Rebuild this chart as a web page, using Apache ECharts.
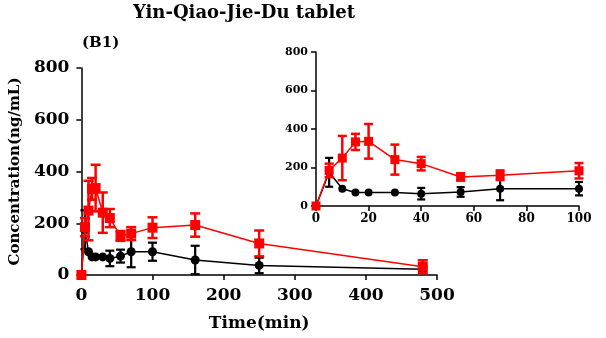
<!DOCTYPE html>
<html>
<head>
<meta charset="utf-8">
<script src="https://cdn.jsdelivr.net/npm/echarts@6/dist/echarts.min.js"></script>
<style>html,body{margin:0;padding:0;background:#fff}#c{width:606px;height:338px}</style>
</head>
<body>
<div id="c"></div>
<script>
var times = [0, 5, 10, 15, 20, 30, 40, 55, 70, 100, 160, 250, 480];
var redMean = [0, 185, 249, 333, 336, 241, 220, 151, 160, 183, 193, 122, 32];
var redSD = [0, 35, 115, 42, 90, 78, 35, 19, 25, 40, 45, 50, 25];
var blackMean = [0, 175, 90, 70, 70, 70, 64, 73, 90, 90, 58, 37, 22];
var blackSD = [0, 75, 0, 0, 0, 0, 30, 25, 60, 35, 55, 30, 8];
var mainXTicks = [0, 100, 200, 300, 400, 500];
var mainYTicks = [0, 200, 400, 600, 800];
var insetXTicks = [0, 20, 40, 60, 80, 100];
var insetYTicks = [0, 200, 400, 600, 800];
var titleText = 'Yin-Qiao-Jie-Du tablet';
var panelText = '(B1)';

var FONT = '"DejaVu Serif", "Liberation Serif", serif';
var RED = '#ff0000', BLACK = '#000000';

function pts(mean, sd, maxT) {
  var out = [];
  for (var i = 0; i < times.length; i++) {
    if (times[i] <= maxT) out.push([times[i], mean[i], sd[i]]);
  }
  return out;
}

function errRender(color, hw, lw) {
  return function (params, api) {
    var x = api.value(0), m = api.value(1), s = api.value(2);
    if (!s) return null;
    var top = api.coord([x, m + s]);
    var bot = api.coord([x, m - s]);
    var st = { stroke: color, lineWidth: lw };
    return {
      type: 'group',
      children: [
        { type: 'line', shape: { x1: top[0], y1: top[1], x2: bot[0], y2: bot[1] }, style: st },
        { type: 'line', shape: { x1: top[0] - hw, y1: top[1], x2: top[0] + hw, y2: top[1] }, style: st },
        { type: 'line', shape: { x1: bot[0] - hw, y1: bot[1], x2: bot[0] + hw, y2: bot[1] }, style: st }
      ]
    };
  };
}

function axisCommon(fontSize, margin) {
  return {
    axisLine: { show: true, lineStyle: { color: '#000', width: 1.5 } },
    axisTick: { show: true, length: 5, lineStyle: { color: '#000', width: 1.5 } },
    axisLabel: { color: '#000', fontFamily: FONT, fontWeight: 'bold', fontSize: fontSize, margin: margin },
    splitLine: { show: false }
  };
}

function mk(o, extra) { for (var k in extra) o[k] = extra[k]; return o; }

var chart = echarts.init(document.getElementById('c'), null, { renderer: 'canvas' });

var series = [];
[[0, 500], [1, 100]].forEach(function (g) {
  var idx = g[0], maxT = g[1];
  var big = idx === 0;
  series.push({
    type: 'line', xAxisIndex: idx, yAxisIndex: idx, data: pts(blackMean, blackSD, maxT),
    symbol: 'circle', symbolSize: big ? 9 : 8, clip: false, z: 3,
    lineStyle: { color: BLACK, width: 1.5 }, itemStyle: { color: BLACK }
  });
  series.push({
    type: 'custom', xAxisIndex: idx, yAxisIndex: idx, data: pts(blackMean, blackSD, maxT),
    renderItem: errRender(BLACK, big ? 4.5 : 4, 2.2), clip: false, z: 3
  });
  series.push({
    type: 'line', xAxisIndex: idx, yAxisIndex: idx, data: pts(redMean, redSD, maxT),
    symbol: 'rect', symbolSize: big ? 10 : 9, clip: false, z: 4,
    lineStyle: { color: RED, width: 1.5 }, itemStyle: { color: RED }
  });
  series.push({
    type: 'custom', xAxisIndex: idx, yAxisIndex: idx, data: pts(redMean, redSD, maxT),
    renderItem: errRender(RED, big ? 5 : 4.5, 2.5), clip: false, z: 4
  });
});

chart.setOption({
  animation: false,
  backgroundColor: '#fff',
  grid: [
    { left: 80, top: 68, width: 357, height: 207 },
    { left: 316, top: 52, width: 263, height: 154 }
  ],
  xAxis: [
    mk(axisCommon(17, 12), {
      type: 'value', gridIndex: 0, min: mainXTicks[0], max: mainXTicks[mainXTicks.length - 1], interval: 100,
      name: 'Time(min)', nameLocation: 'middle', nameGap: 40,
      nameTextStyle: { color: '#000', fontFamily: FONT, fontWeight: 'bold', fontSize: 17 }
    }),
    mk(axisCommon(12, 7), {
      type: 'value', gridIndex: 1, min: insetXTicks[0], max: insetXTicks[insetXTicks.length - 1], interval: 20
    })
  ],
  yAxis: [
    mk(axisCommon(17, 12), {
      type: 'value', gridIndex: 0, min: mainYTicks[0], max: mainYTicks[mainYTicks.length - 1], interval: 200,
      name: 'Concentration(ng/mL)', nameLocation: 'middle', nameGap: 58, nameRotate: 90,
      nameTextStyle: { color: '#000', fontFamily: FONT, fontWeight: 'bold', fontSize: 15 }
    }),
    mk(axisCommon(11, 8), {
      type: 'value', gridIndex: 1, min: insetYTicks[0], max: insetYTicks[insetYTicks.length - 1], interval: 200
    })
  ],
  graphic: [
    { type: 'text', left: 133, top: 4, style: { text: titleText, fill: '#000', font: 'bold 18px ' + FONT } },
    { type: 'text', left: 82, top: 36, style: { text: panelText, fill: '#000', font: 'bold 15px ' + FONT } }
  ],
  series: series
});
</script>
</body>
</html>
